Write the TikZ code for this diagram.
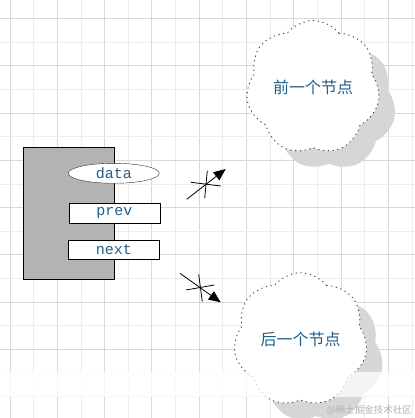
\documentclass[tikz,border=0pt]{standalone}
\usepackage{fontspec}
\setmonofont{Liberation Mono}
\newfontfamily\cjk{Noto Sans CJK SC}
\usetikzlibrary{shapes.symbols,shapes.geometric,shadows,arrows.meta}
\definecolor{txtblue}{RGB}{31,95,140}
\definecolor{gridA}{RGB}{216,216,216}
\definecolor{gridB}{RGB}{236,236,236}
\definecolor{boxgray}{RGB}{179,179,179}
\definecolor{shadowgray}{RGB}{214,214,214}
\begin{document}
\begin{tikzpicture}[x=1pt,y=-1pt,
  field/.style={draw=black, fill=white, minimum width=91pt, minimum height=20pt, inner sep=0pt,
    font=\ttfamily\fontsize{15}{15}\selectfont, text=txtblue},
  cloudnode/.style={cloud, cloud puffs=7, cloud puff arc=105, cloud ignores aspect,
    minimum width=134pt, minimum height=134pt, draw=black!75, line width=0.9pt,
    dash pattern=on 1.2pt off 3.6pt, fill=white, text=txtblue,
    font=\cjk\fontsize{16}{16}\selectfont,
    drop shadow={shadow xshift=16pt, shadow yshift=-16pt, fill=shadowgray, opacity=1}},
  link/.style={line width=0.8pt, -{Triangle[length=12pt,width=10pt]}},
  crossline/.style={line width=0.8pt}]
\useasboundingbox (0,0) rectangle (415,418);
\clip (0,0) rectangle (415,418);
\fill[white] (0,0) rectangle (415,418);
% grid
\foreach \k in {0,...,17} {
  \pgfmathsetmacro{\xx}{10+23.65*\k}
  \pgfmathparse{mod(\k,2)==0 ? 1 : 0}
  \ifnum\pgfmathresult=1
    \draw[gridA, line width=0.9pt] (\xx,0) -- (\xx,418);
  \else
    \draw[gridB, line width=0.9pt] (\xx,0) -- (\xx,418);
  \fi
}
\foreach \k in {0,...,16} {
  \pgfmathsetmacro{\yy}{18.4+23.65*\k}
  \pgfmathparse{mod(\k,2)==0 ? 1 : 0}
  \ifnum\pgfmathresult=1
    \draw[gridA, line width=0.9pt] (0,\yy) -- (415,\yy);
  \else
    \draw[gridB, line width=0.9pt] (0,\yy) -- (415,\yy);
  \fi
}
% object box
\node[draw=black, fill=boxgray, minimum width=91pt, minimum height=131.7pt, inner sep=0pt] (obj) at (68.8,213.2) {};
\node[field, ellipse, draw=black!80, minimum height=20pt] (data) at (113.8,173.3) {data};
\node[field] (prev) at (114.3,213.3) {prev};
\node[field, minimum height=19pt] (next) at (113.8,249.8) {next};
% clouds
\node[cloudnode, shape border rotate=10] (c1) at (313,87.5) {前一个节点};
\node[cloudnode, shape border rotate=35] (c2) at (300.5,339.7) {后一个节点};
% links
\coordinate (a1s) at (186.7,199.3);
\coordinate (a1e) at (225.7,169);
\coordinate (a2s) at (180,273.3);
\coordinate (a2e) at (220.7,302.3);
\draw[link] (a1s) -- (a1e);
\draw[link] (a2s) -- (a2e);
\coordinate (x1a) at (207.3,170.7);
\coordinate (x1b) at (204.7,198.3);
\coordinate (x1c) at (191,182.3);
\coordinate (x1d) at (220.7,186);
\draw[crossline] (x1a) -- (x1b);
\draw[crossline] (x1c) -- (x1d);
\coordinate (x2a) at (198.7,274.3);
\coordinate (x2b) at (202.3,301.7);
\coordinate (x2c) at (186,290);
\coordinate (x2d) at (214.3,285);
\draw[crossline] (x2a) -- (x2b);
\draw[crossline] (x2c) -- (x2d);
% watermark band
\fill[white, opacity=0.75] (0,372) rectangle (415,397);
\node[anchor=east, text=black!30, inner sep=0pt, font=\cjk\fontsize{9.5}{9.5}\selectfont] (wm) at (412,410) {@稀土掘金技术社区};
\end{tikzpicture}
\end{document}
